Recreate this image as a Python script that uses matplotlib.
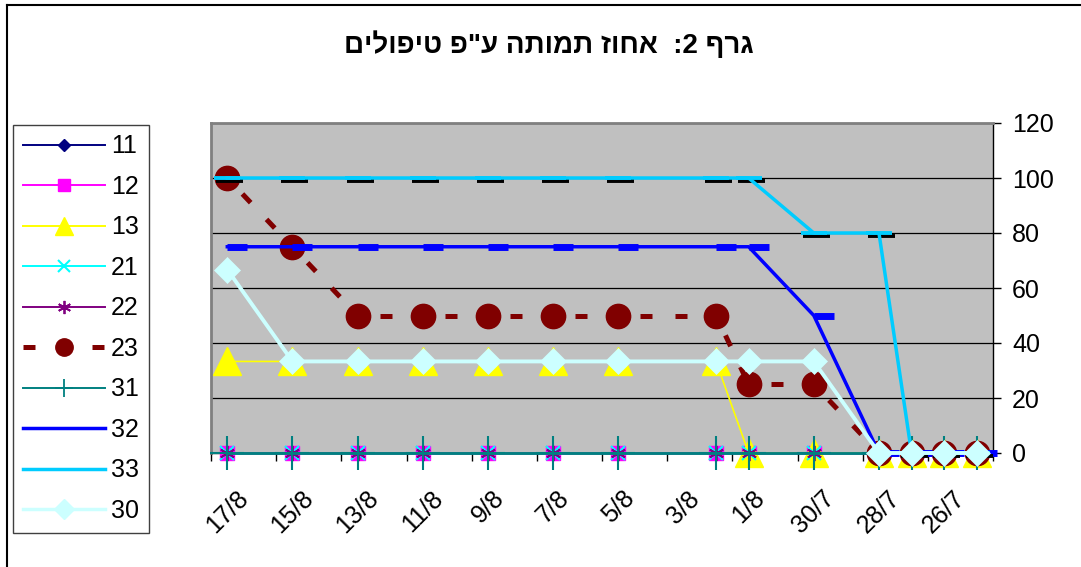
import matplotlib
matplotlib.use('Agg')
import matplotlib.pyplot as plt
from matplotlib.lines import Line2D
from matplotlib.path import Path
import pandas as pd

"""Mortality percentage by treatment (Excel style line chart, Hebrew title)
"""
plt.rcParams['font.family'] = ['Liberation Sans', 'DejaVu Sans']

# data
dates = ['17/8', '15/8', '13/8', '11/8', '9/8', '7/8', '5/8', '2/8', '1/8',
         '30/7', '28/7', '27/7', '26/7', '25/7']
tick_dates = ['17/8', '15/8', '13/8', '11/8', '9/8', '7/8', '5/8', '3/8',
              '1/8', '30/7', '28/7', '26/7']
s11 = [0, 0, 0, 0, 0, 0, 0, 0, 0, 0, 0, 0, 0, 0]
s12 = [0, 0, 0, 0, 0, 0, 0, 0, 0, 0, 0, 0, 0, 0]
s13 = [33.3, 33.3, 33.3, 33.3, 33.3, 33.3, 33.3, 33.3, 0, 0, 0, 0, 0, 0]
s21 = [0, 0, 0, 0, 0, 0, 0, 0, 0, 0, 0, 0, 0, 0]
s22 = [0, 0, 0, 0, 0, 0, 0, 0, 0, 0, 0, 0, 0, 0]
s23 = [100, 75, 50, 50, 50, 50, 50, 50, 25, 25, 0, 0, 0, 0]
s31 = [0, 0, 0, 0, 0, 0, 0, 0, 0, 0, 0, 0, 0, 0]
s32 = [75, 75, 75, 75, 75, 75, 75, 75, 75, 50, 0, 0, 0, 0]
s33 = [100, 100, 100, 100, 100, 100, 100, 100, 100, 80, 80, 0, 0, 0]
s30 = [66.7, 33.3, 33.3, 33.3, 33.3, 33.3, 33.3, 33.3, 33.3, 33.3, 0, 0, 0, 0]
labels = ['11', '12', '13', '21', '22', '23', '31', '32', '33', '30']
title = 'גרף 2:  אחוז תמותה ע"פ טיפולים'

YEAR = '2005'
FS = 18


def todate(lst):
    return pd.to_datetime([d + '/' + YEAR for d in lst], format='%d/%m/%Y')


x = todate(dates)
xt = todate(tick_dates)
half = pd.Timedelta(hours=12)

# excel like dash markers
right_bar = Path([(0, 0), (1, 0)])
shadow_bar = Path([(-0.4, -0.12), (0.6, -0.12)])
asterisk = (6, 2, 0)

fig = plt.figure(figsize=(10.81, 5.67), dpi=100)
ax = fig.add_axes([211 / 1081, 1 - 453 / 567, 782 / 1081, 330 / 567])
ax.set_facecolor('#C0C0C0')

kw = dict(clip_on=False)
ax.plot(x, s11, color='#000080', lw=1, marker='D', ms=6, mec='#000080', **kw)
ax.plot(x, s12, color='#FF00FF', lw=1, marker='s', ms=10.5, mec='#FF00FF',
        **kw)
ax.plot(x, s13, color='#FFFF00', lw=1.2, marker='^', ms=20, mec='#FFFF00',
        **kw)
ax.plot(x, s21, color='#00FFFF', lw=1, marker='x', ms=10, mew=1.5, **kw)
ax.plot(x, s22, color='#800080', lw=1, marker=asterisk, ms=11, mew=1.3, **kw)
# series 23: dash pattern restarts on each segment like excel
for i in range(len(x) - 1):
    ax.plot(x[i:i + 2], s23[i:i + 2], color='#800000', lw=3.6,
            ls=(2.6, (2.4, 4.6)), solid_capstyle='butt',
            dash_capstyle='butt', **kw)
ax.plot(x, s23, lw=0, marker='o', ms=17.5, color='#800000', mec='#800000',
        **kw)
ax.plot(x, s31, color='#008080', lw=2, marker='+', ms=25, mew=1.5, **kw)
ax.plot(x, s32, color='#0000FF', lw=2.5, marker=right_bar, ms=28.8,
        mew=5, mec='#0000FF', **kw)
ax.plot(x, s33, lw=0, marker=shadow_bar, ms=23.3, mew=2.8, mec='black', **kw)
ax.plot(x, s33, color='#00CCFF', lw=2.5, marker='_', ms=18.7, mew=2.8,
        mec='#00CCFF', **kw)
ax.plot(x, s30, color='#CCFFFF', lw=2.8, marker='D', ms=13.5,
        mec='#CCFFFF', mfc='#CCFFFF', mew=0.5, **kw)

ax.set_xlim(x[0] + half, x[-1] - half)
ax.set_ylim(0, 120)
ax.set_yticks(range(0, 121, 20))
ax.yaxis.tick_right()
ax.grid(axis='y', color='black', lw=0.9)
ax.set_axisbelow(True)
ax.tick_params(axis='y', direction='out', length=5.8, width=1, pad=8,
               labelsize=FS, right=True, left=False)

ax.set_xticks(xt)
ax.set_xticklabels(tick_dates, rotation=45, ha='center')
ax.set_xticks(list(xt + half) + [x[-1] - half], minor=True)
ax.tick_params(axis='x', which='major', length=0, pad=24, labelsize=FS)
ax.tick_params(axis='x', which='minor', length=5.5, width=1, color='black')

for side in ['top', 'left']:
    ax.spines[side].set_color('#808080')
    ax.spines[side].set_linewidth(2)
for side in ['bottom', 'right']:
    ax.spines[side].set_color('black')
    ax.spines[side].set_linewidth(1)
for sp in ax.spines.values():
    sp.set_zorder(1.5)

# legend with excel sized markers
handles = [
    Line2D([], [], color='#000080', lw=1.4, marker='D', ms=6.5),
    Line2D([], [], color='#FF00FF', lw=1.4, marker='s', ms=8.5),
    Line2D([], [], color='#FFFF00', lw=1.4, marker='^', ms=13.5),
    Line2D([], [], color='#00FFFF', lw=1.4, marker='x', ms=9, mew=1.5),
    Line2D([], [], color='#800080', lw=1.4, marker=asterisk, ms=9.5, mew=1.3),
    Line2D([], [], color='#800000', lw=3.6, ls=(0, (2.4, 11.4)),
           dash_capstyle='butt', marker='o', ms=12.5),
    Line2D([], [], color='#008080', lw=1.4, marker='+', ms=13, mew=1.3),
    Line2D([], [], color='#0000FF', lw=2.5),
    Line2D([], [], color='#00CCFF', lw=2.5),
    Line2D([], [], color='#CCFFFF', lw=2.5, marker='D', ms=10),
]
leg = fig.legend(handles, labels, loc='upper left',
                 bbox_to_anchor=(13 / 1081, 1 - 125 / 567),
                 borderaxespad=0, fontsize=FS, handlelength=3.3,
                 handletextpad=0.25, labelspacing=0.66, borderpad=0.38,
                 fancybox=False, framealpha=1, edgecolor='#404040')
leg.get_frame().set_linewidth(1)

fig.text(0.508, 1 - 45 / 567, title[::-1], ha='center', va='center',
         fontsize=20, fontweight='bold')

# chart area border
fig.add_artist(Line2D([7 / 1081, 7 / 1081], [0, 1 - 5 / 567],
                      transform=fig.transFigure, color='black', lw=1.5))
fig.add_artist(Line2D([7 / 1081, 1], [1 - 5 / 567, 1 - 5 / 567],
                      transform=fig.transFigure, color='black', lw=1.5))

fig.savefig('out.png', dpi=100)
